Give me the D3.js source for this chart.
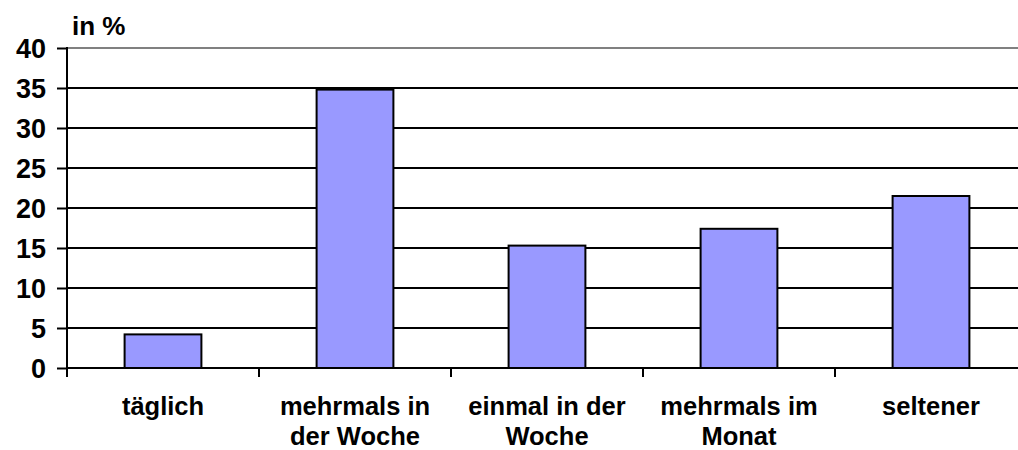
<!DOCTYPE html>
<html>
<head>
<meta charset="utf-8">
<script src="https://cdn.jsdelivr.net/npm/d3@7"></script>
<style>
  html, body { margin: 0; padding: 0; background: #fff; }
  svg { display: block; }
  text { font-family: "Liberation Sans", Arial, sans-serif; font-weight: bold; fill: #000; }
</style>
</head>
<body>
<svg id="chart" width="1018" height="450"></svg>
<script>
// Häufigkeit der Nutzung, Anteile in Prozent
const categories = ["täglich", "mehrmals in der Woche", "einmal in der Woche", "mehrmals im Monat", "seltener"];
const categoryLines = [["täglich"], ["mehrmals in", "der Woche"], ["einmal in der", "Woche"], ["mehrmals im", "Monat"], ["seltener"]];
const values = [4.2, 34.8, 15.3, 17.4, 21.5];
const yTicks = [0, 5, 10, 15, 20, 25, 30, 35, 40];
const yUnit = "in %";

const svg = d3.select("#chart");
const plotLeft = 67, plotRight = 1027, plotTop = 48, plotBottom = 368;

const xCat = d3.scaleBand().domain(categories).range([plotLeft, plotRight]).padding(0);
const xBar = d3.scaleBand().domain(categories).range([plotLeft, plotRight])
  .paddingInner(0.6).paddingOuter(0.3);
const y = d3.scaleLinear().domain([0, 40]).range([plotBottom, plotTop]);

// horizontal gridlines (top one grey)
svg.append("g").selectAll("line")
  .data(yTicks.filter(d => d > 0))
  .join("line")
  .attr("x1", plotLeft).attr("x2", 1018)
  .attr("y1", d => y(d)).attr("y2", d => y(d))
  .attr("stroke", d => d === 40 ? "#808080" : "#000")
  .attr("stroke-width", 2);

// bars
svg.append("g").selectAll("rect")
  .data(categories)
  .join("rect")
  .attr("x", d => xBar(d))
  .attr("width", xBar.bandwidth())
  .attr("y", (d, i) => y(values[i]))
  .attr("height", (d, i) => y(0) - y(values[i]))
  .attr("fill", "#9999FF")
  .attr("stroke", "#000")
  .attr("stroke-width", 2);

// y axis
const yAxis = d3.axisLeft(y).tickValues(yTicks).tickSize(10).tickPadding(11);
const gy = svg.append("g").attr("transform", `translate(${plotLeft},0)`).call(yAxis);
gy.select(".domain").remove();
gy.selectAll(".tick line").attr("stroke", "#000").attr("stroke-width", 2);
gy.selectAll(".tick text").attr("font-size", 27).attr("font-family", null).attr("dy", "0.36em");
svg.append("line")
  .attr("x1", plotLeft).attr("x2", plotLeft)
  .attr("y1", plotTop - 1).attr("y2", plotBottom + 9)
  .attr("stroke", "#000").attr("stroke-width", 2);

// x axis baseline and category separators
svg.append("line")
  .attr("x1", plotLeft).attr("x2", 1018)
  .attr("y1", y(0)).attr("y2", y(0))
  .attr("stroke", "#000").attr("stroke-width", 2);
svg.append("g").selectAll("line")
  .data(categories.slice(1))
  .join("line")
  .attr("x1", d => xCat(d)).attr("x2", d => xCat(d))
  .attr("y1", y(0)).attr("y2", y(0) + 9)
  .attr("stroke", "#000").attr("stroke-width", 2);

// category labels
const lab = svg.append("g").selectAll("text")
  .data(categories)
  .join("text")
  .attr("text-anchor", "middle")
  .attr("font-size", 25.5)
  .attr("x", d => xCat(d) + xCat.bandwidth() / 2)
  .attr("y", 415);
lab.selectAll("tspan")
  .data((d, i) => categoryLines[i])
  .join("tspan")
  .attr("x", function () { return this.parentNode.getAttribute("x"); })
  .attr("dy", (d, i) => i === 0 ? 0 : 30)
  .text(d => d);

// unit label
svg.append("text")
  .attr("x", 72).attr("y", 35)
  .attr("font-size", 26)
  .text(yUnit);
</script>
</body>
</html>
